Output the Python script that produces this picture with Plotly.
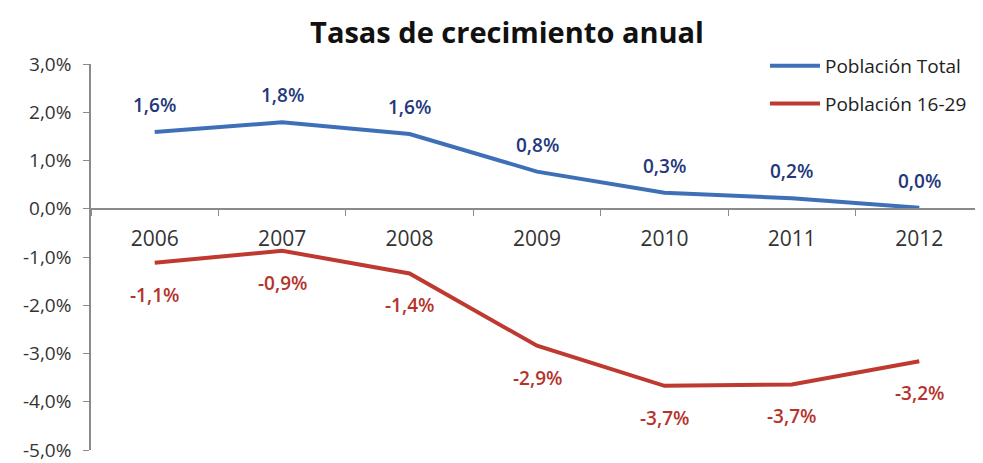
import plotly.graph_objects as go

years = ["2006", "2007", "2008", "2009", "2010", "2011", "2012"]
total_vals = [1.59, 1.79, 1.55, 0.77, 0.33, 0.22, 0.02]
total_labels = ["1,6%", "1,8%", "1,6%", "0,8%", "0,3%", "0,2%", "0,0%"]
young_vals = [-1.12, -0.87, -1.34, -2.84, -3.67, -3.64, -3.16]
young_labels = ["-1,1%", "-0,9%", "-1,4%", "-2,9%", "-3,7%", "-3,7%", "-3,2%"]
y_tick_vals = [-5, -4, -3, -2, -1, 0, 1, 2, 3]
y_tick_text = ["-5,0%", "-4,0%", "-3,0%", "-2,0%", "-1,0%", "0,0%", "1,0%", "2,0%", "3,0%"]

FONT = "Open Sans"
BLUE = "#3E70B8"
RED = "#BE3A30"
BLUE_TXT = "#23387A"
RED_TXT = "#B5332C"

y_min, y_max = -5, 3
OFF = 8  # page body margin offset

fig = go.Figure()
fig.add_trace(go.Scatter(x=years, y=total_vals, mode="lines", name="Población Total",
                         line=dict(color=BLUE, width=4), legendgroup="a"))
fig.add_trace(go.Scatter(x=years, y=young_vals, mode="lines", name="Población 16-29",
                         line=dict(color=RED, width=4), legendgroup="b"))

annotations = []
for i, (v, t) in enumerate(zip(total_vals, total_labels)):
    annotations.append(dict(x=i, y=v, xref="x", yref="y", text=t, showarrow=False, yshift=27,
                            font=dict(family=FONT, size=19, color=BLUE_TXT, weight=600)))
for i, (v, t) in enumerate(zip(young_vals, young_labels)):
    annotations.append(dict(x=i, y=v, xref="x", yref="y", text=t, showarrow=False, yshift=-32,
                            font=dict(family=FONT, size=19, color=RED_TXT, weight=600)))

W, H = 983, 463
fig.update_layout(
    width=W, height=H,
    margin=dict(l=91 - OFF, r=OFF, t=64 - OFF, b=13 + OFF, autoexpand=False),
    paper_bgcolor="white", plot_bgcolor="white",
    font=dict(family=FONT, size=17, color="#333333"),
    title=dict(text="<b>Tasas de crecimiento anual</b>", x=(507 - OFF) / W, xanchor="center",
               xref="container", yref="container",
               y=1 - (33 - OFF) / H, yanchor="middle",
               font=dict(family=FONT, size=29, color="#111111")),
    showlegend=True,
    legend=dict(x=(765 - OFF) / W, y=1 - (47 - OFF) / H, xanchor="left", yanchor="top",
                xref="container", yref="container",
                bgcolor="rgba(0,0,0,0)", font=dict(family=FONT, size=19, color="#222222"),
                itemwidth=50, tracegroupgap=10),
    annotations=annotations,
    xaxis=dict(type="category", anchor="free",
               position=(0 - y_min) / (y_max - y_min),
               showline=True, linecolor="#8A8A8A", linewidth=1.5,
               ticks="outside", tickson="boundaries", ticklen=6, tickcolor="#8A8A8A",
               showgrid=False, zeroline=False, ticklabelstandoff=11,
               tickfont=dict(family=FONT, size=21, color="#333333"),
               range=[-0.5, 6.5]),
    yaxis=dict(range=[y_min, y_max], tickmode="array", tickvals=y_tick_vals, ticktext=y_tick_text,
               showline=True, linecolor="#8A8A8A", linewidth=1.5,
               ticks="outside", ticklen=6, tickcolor="#8A8A8A",
               showgrid=False, zeroline=False, ticklabelstandoff=8,
               tickfont=dict(family=FONT, size=19, color="#333333")),
)

fig.write_html("out.html")
